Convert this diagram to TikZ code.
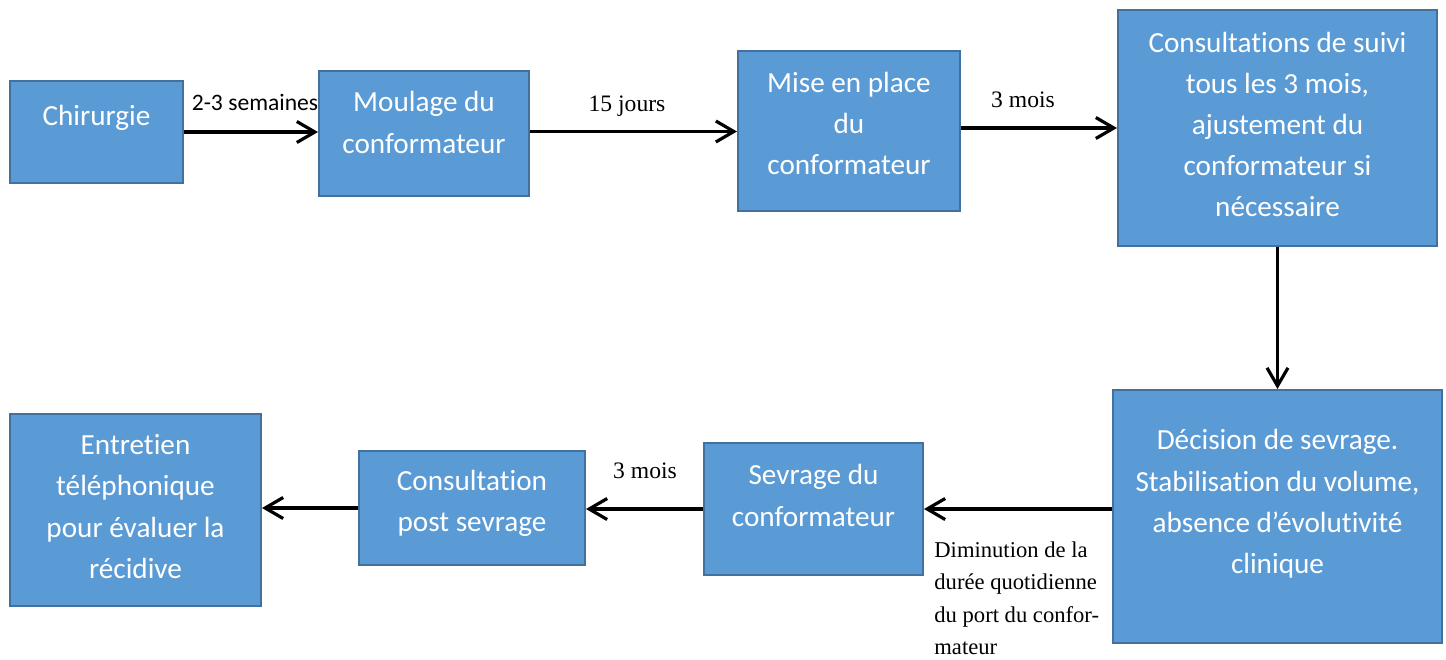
\documentclass[tikz,border=0pt]{standalone}
\usepackage{fontspec}
\setmainfont{Liberation Serif}
\newfontfamily\boxfont[Ligatures={NoCommon}]{Carlito}
\usetikzlibrary{arrows.meta,calc}
\definecolor{boxfill}{HTML}{5B9BD5}
\definecolor{boxline}{HTML}{41719C}
\tikzset{
  box/.style={draw=boxline, line width=1pt, fill=boxfill, inner sep=0pt},
  boxtext/.style={text=white, align=center, inner sep=0pt, font=\boxfont\fontsize{14.6}{20.6}\selectfont},
  flow/.style={line width=1.6pt, -{Straight Barb[length=9pt,width=10.5pt,line width=1.6pt]}},
  lblsans/.style={inner sep=0pt, font=\boxfont\fontsize{11.8}{13}\selectfont},
  lblserif/.style={inner sep=0pt, font=\fontsize{11.8}{14}\selectfont},
  lblblock/.style={inner sep=0pt, font=\fontsize{11.3}{16.25}\selectfont},
}
\begin{document}
\begin{tikzpicture}[x=0.5pt,y=-0.5pt]
\useasboundingbox (0,0) rectangle (1446,659);
% boxes
\node[box, minimum width=86.5pt, minimum height=51pt] (chir) at (96.5,132) {};
\node[box, minimum width=105pt, minimum height=62.5pt] (moul) at (424,133.5) {};
\node[box, minimum width=111pt, minimum height=80pt] (mise) at (849,131) {};
\node[box, minimum width=159.5pt, minimum height=118pt] (cons) at (1277.5,128) {};
\node[box, minimum width=164.5pt, minimum height=126.5pt] (deci) at (1277.5,516.5) {};
\node[box, minimum width=109.5pt, minimum height=66pt] (sevr) at (813.5,509) {};
\node[box, minimum width=113pt, minimum height=57pt] (post) at (472,508) {};
\node[box, minimum width=125.5pt, minimum height=96pt] (entr) at (135.5,510) {};
% box texts
\node[boxtext] (chirt) at ($(chir)+(0,-14)$) {Chirurgie};
\node[boxtext] (moult) at ($(moul)+(0,-11)$) {Moulage du\\conformateur};
\node[boxtext] (miset) at ($(mise)+(0,-7.5)$) {Mise en place\\du\\conformateur};
\node[boxtext] (const) at ($(cons)+(0,-3.5)$) {Consultations de suivi\\tous les 3 mois,\\ajustement du\\conformateur si\\nécessaire};
\node[boxtext] (decit) at ($(deci)+(0,-12.5)$) {Décision de sevrage.\\Stabilisation du volume,\\absence d’évolutivité\\clinique};
\node[boxtext] (sevrt) at ($(sevr)+(0,-13.5)$) {Sevrage du\\conformateur};
\node[boxtext] (postt) at ($(post)+(0,-5)$) {Consultation\\post sevrage};
\node[boxtext] (entrt) at ($(entr)+(0,-3.5)$) {Entretien\\téléphonique\\pour évaluer la\\récidive};
% connectors
\draw[flow] (chir.east) -- (chir.east -| moul.west);
\draw[flow] ($(moul.east)+(0,-2)$) -- ($(moul.east -| mise.west)+(0,-2)$);
\draw[flow] ($(mise.east)+(0,-3)$) -- ($(mise.east -| cons.west)+(0,-3)$);
\draw[flow] (cons.south) -- (deci.north);
\draw[flow] (deci.west |- sevr.east) -- (sevr.east);
\draw[flow] (sevr.west) -- (sevr.west -| post.east);
\draw[flow] (post.west) -- (post.west -| entr.east);
% labels
\node[lblsans] (l1) at (255,102) {2-3 semaines};
\node[lblserif] (l2) at (627,106) {15 jours};
\node[lblserif] (l3) at (1023,100) {3 mois};
\node[lblserif] (l4) at (645,471) {3 mois};
\node[lblblock, align=left, anchor=north west] (l5) at (934,541) {Diminution de la\\durée quotidienne\\du port du confor-\\mateur};
\end{tikzpicture}
\end{document}
